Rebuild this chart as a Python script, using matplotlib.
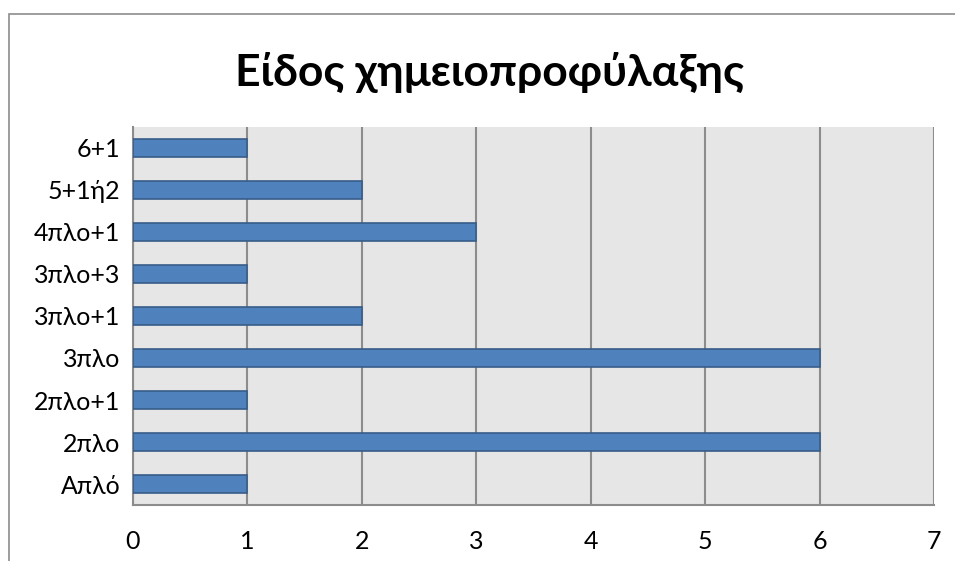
import matplotlib
matplotlib.use("Agg")
import matplotlib.pyplot as plt
from matplotlib.patches import Rectangle

categories = ["Απλό", "2πλο", "2πλο+1", "3πλο", "3πλο+1", "3πλο+3", "4πλο+1", "5+1ή2", "6+1"]
values = [1, 6, 1, 6, 2, 1, 3, 2, 1]
title = "Είδος χημειοπροφύλαξης"
xticks = [0, 1, 2, 3, 4, 5, 6, 7]

plt.rcParams['font.family'] = ['Lato', 'DejaVu Sans']

fig = plt.figure(figsize=(9.55, 5.61), dpi=100)
fig.patches.append(Rectangle((9/955, -0.1), 1.1, 1 - 14/561 + 0.1, transform=fig.transFigure,
                             fill=False, edgecolor="#8c8c8c", linewidth=1.2))
ax = fig.add_axes([133/955, 1 - 505/561, (934 - 133)/955, (505 - 127)/561])
ax.set_facecolor("#E6E6E6")
ypos = list(range(len(categories)))
ax.barh(ypos, values, height=0.42, color="#4F81BD", edgecolor="#385D8A", linewidth=1.2, zorder=3)
ax.set_xlim(0, 7)
ax.set_ylim(-0.5, len(categories) - 0.5)
ax.set_xticks(xticks)
ax.set_xticklabels([str(t) for t in xticks], fontsize=18)
ax.set_yticks(ypos)
ax.set_yticklabels(categories, fontsize=18)
ax.tick_params(length=0, pad=9)
ax.tick_params(axis='x', pad=18)
ax.xaxis.grid(True, color="#8c8c8c", linewidth=1.5, zorder=1)
ax.set_axisbelow(True)
for s in ["top", "right"]:
    ax.spines[s].set_visible(False)
for s in ["left", "bottom"]:
    ax.spines[s].set_color("#8c8c8c")
    ax.spines[s].set_linewidth(1.5)
fig.text(490/955, 1 - 72/561, title, ha="center", va="center", fontsize=32, fontweight="bold")
fig.savefig("out.png", dpi=100)
